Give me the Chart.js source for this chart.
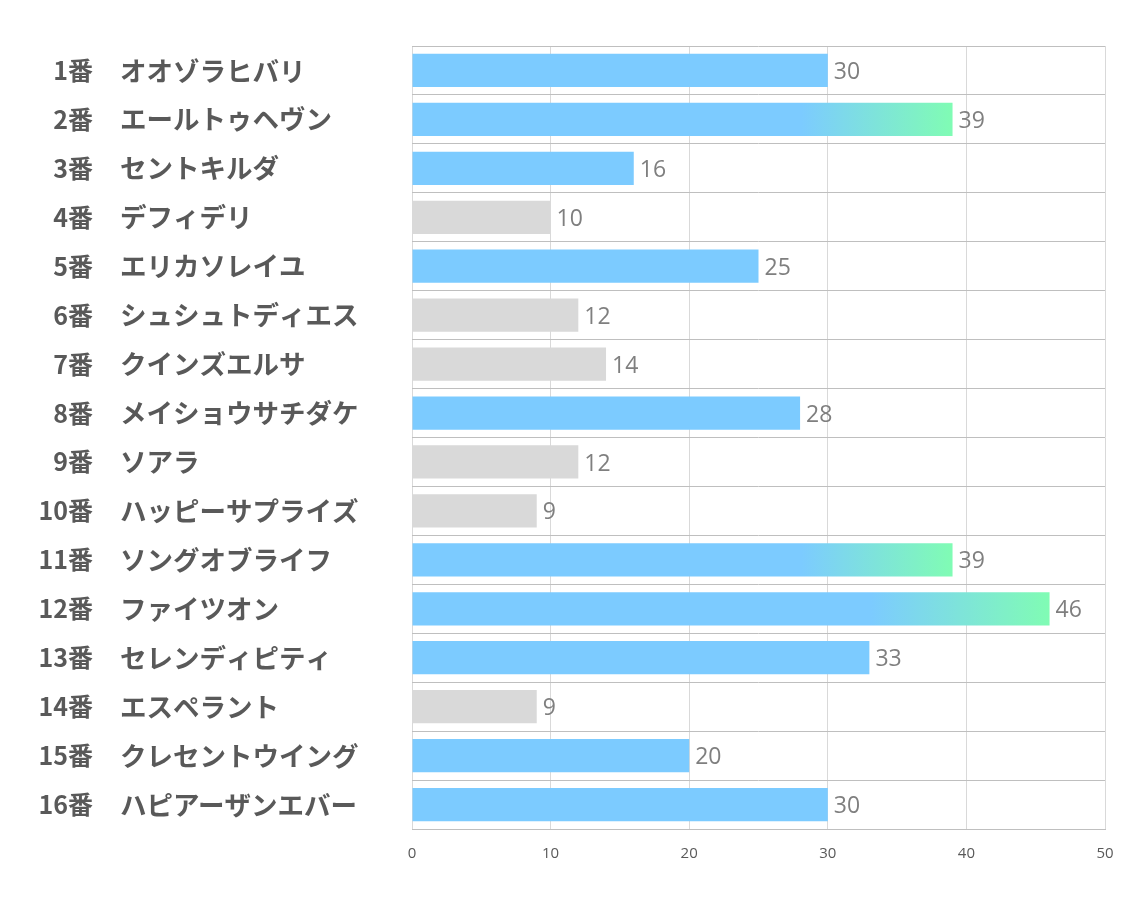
<!DOCTYPE html>
<html>
<head>
<meta charset="utf-8">
<script src="https://cdn.jsdelivr.net/npm/chart.js@4.4.1/dist/chart.umd.min.js"></script>
<style>
  html, body { margin: 0; padding: 0; background: #fff; }
  #wrap { width: 1134px; height: 907px; }
</style>
</head>
<body>
<div id="wrap"><canvas id="chart" width="1134" height="907"></canvas></div>
<script>
// horse numbers and names
const numbers = ["1番", "2番", "3番", "4番", "5番", "6番", "7番", "8番",
  "9番", "10番", "11番", "12番", "13番", "14番", "15番", "16番"];
const names = ["オオゾラヒバリ", "エールトゥヘヴン", "セントキルダ", "デフィデリ",
  "エリカソレイユ", "シュシュトディエス", "クインズエルサ", "メイショウサチダケ",
  "ソアラ", "ハッピーサプライズ", "ソングオブライフ", "ファイツオン",
  "セレンディピティ", "エスペラント", "クレセントウイング", "ハピアーザンエバー"];
const scores = [30, 39, 16, 10, 25, 12, 14, 28, 12, 9, 39, 46, 33, 9, 20, 30];
const xTicks = [0, 10, 20, 30, 40, 50];

// low scores are greyed out, top scores fade to green
const LOW = 15;
const HIGH = 35;
const BLUE = "#7ccbff";
const GREEN = "#80fcb4";
const GREY = "#d9d9d9";

function barColor(ctx) {
  const v = scores[ctx.dataIndex];
  if (v < LOW) return GREY;
  if (v < HIGH) return BLUE;
  const chart = ctx.chart;
  if (!chart.chartArea) return BLUE;
  const x = chart.scales.x;
  const x0 = x.getPixelForValue(0);
  const x1 = x.getPixelForValue(v);
  const g = chart.ctx.createLinearGradient(x0, 0, x1, 0);
  g.addColorStop(0, BLUE);
  g.addColorStop(0.72, BLUE);
  g.addColorStop(1, GREEN);
  return g;
}

// value labels at bar ends, horse numbers right-aligned left of names
const labelPlugin = {
  id: "labels",
  afterDatasetsDraw(chart) {
    const ctx = chart.ctx;
    const meta = chart.getDatasetMeta(0);
    ctx.save();
    ctx.font = "23px 'Open Sans', 'Noto Sans', sans-serif";
    ctx.fillStyle = "#7f7f7f";
    ctx.textAlign = "left";
    ctx.textBaseline = "middle";
    meta.data.forEach((bar, i) => {
      ctx.fillText(String(scores[i]), bar.x + 6, bar.y + 2);
    });
    const y = chart.scales.y;
    ctx.font = "bold 25px 'Noto Sans CJK JP', sans-serif";
    ctx.fillStyle = "#595959";
    ctx.textAlign = "right";
    numbers.forEach((n, i) => {
      ctx.fillText(n, 93, y.getPixelForTick(i));
    });
    ctx.restore();
  }
};

new Chart(document.getElementById("chart"), {
  type: "bar",
  data: {
    labels: names,
    datasets: [{
      data: scores,
      backgroundColor: barColor,
      borderWidth: 0,
      categoryPercentage: 1,
      barPercentage: 0.68
    }]
  },
  options: {
    indexAxis: "y",
    responsive: false,
    animation: false,
    layout: { padding: { left: 120, top: 46, right: 29, bottom: 28 } },
    plugins: {
      legend: { display: false },
      tooltip: { enabled: false }
    },
    scales: {
      x: {
        min: 0,
        max: 50,
        afterBuildTicks: (scale) => { scale.ticks = xTicks.map(v => ({ value: v })); },
        afterFit: (scale) => { scale.height = 50; },
        grid: { color: "#d9d9d9", drawTicks: false },
        border: { color: "#bfbfbf" },
        ticks: {
          padding: 16,
          color: "#595959",
          font: { family: "'Open Sans', sans-serif", size: 15 }
        }
      },
      y: {
        afterFit: (scale) => { scale.width = 292; },
        grid: { offset: true, color: "#bfbfbf", drawTicks: false },
        border: { display: false },
        ticks: {
          crossAlign: "far",
          color: "#595959",
          font: { family: "'Noto Sans CJK JP', sans-serif", size: 26.5, weight: "bold" }
        }
      }
    }
  },
  plugins: [labelPlugin]
});
</script>
</body>
</html>
